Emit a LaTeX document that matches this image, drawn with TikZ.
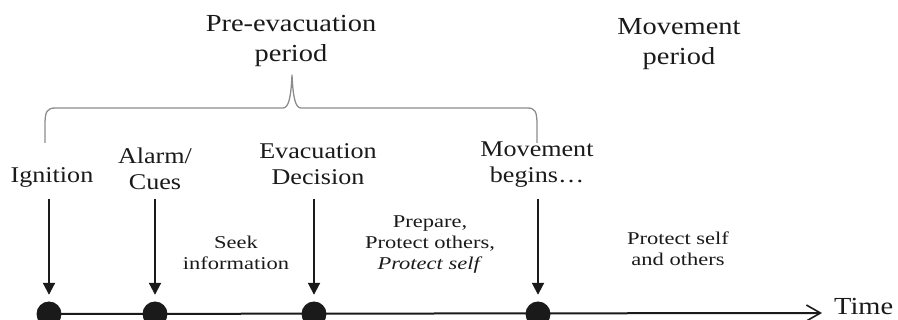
\documentclass[tikz,border=0pt]{standalone}
\usepackage{fontspec}
\setmainfont{Liberation Serif}[FakeStretch=1.16]
\newfontfamily\smallserif{Liberation Serif}[FakeStretch=1.25]
\usetikzlibrary{arrows.meta}
\definecolor{ink}{HTML}{1A1A1A}
\definecolor{bracegray}{HTML}{8C8C8C}
\begin{document}
\begin{tikzpicture}[x=1pt,y=-1pt,
  periodlabel/.style={font=\fontsize{24.5}{30}\selectfont, align=center, anchor=base, inner sep=0pt, text=ink},
  eventlabel/.style={font=\fontsize{22.5}{26}\selectfont, align=center, anchor=base, inner sep=0pt, text=ink},
  phaselabel/.style={font=\smallserif\fontsize{18}{21}\selectfont, align=center, anchor=base, inner sep=0pt, text=ink},
  dot/.style={circle, fill=ink, minimum size=25pt, inner sep=0pt},
  droparrow/.style={draw=ink, line width=2pt, -{Triangle[length=12pt,width=12pt]}, shorten >=6.5pt},
  timeline/.style={draw=ink, line width=2pt, -{Straight Barb[length=14pt,width=16pt,line width=1.6pt]}},
  bracestyle/.style={draw=bracegray, line width=1.3pt, line join=round}]
\useasboundingbox (0,0) rectangle (898,320);
% period labels
\node[periodlabel] (preevac) at (291,62) {Pre-evacuation\\period};
\node[periodlabel] (movper) at (679,65) {Movement\\period};
% brace
\draw[bracestyle] (45,143) -- (45,125) .. controls (45,111) and (47,108) .. (56,108)
  -- (283,108) .. controls (289,108) and (291,96) .. (292,75)
  .. controls (293,96) and (295,108) .. (301,108)
  -- (527,108) .. controls (535,108) and (537,111) .. (537,125) -- (537,143);
% event labels
\node[eventlabel] (ign) at (52,183) {Ignition};
\node[eventlabel] (alarm) at (155,190) {Alarm/\\Cues};
\node[eventlabel] (evac) at (318,185) {Evacuation\\Decision};
\node[eventlabel] (move) at (537,183) {Movement\\begins…};
% phase labels
\node[phaselabel] (seek) at (236,270) {Seek\\information};
\node[phaselabel] (prep) at (430,270) {Prepare,\\Protect others,\\\textit{Protect self}};
\node[phaselabel] (prot) at (678,266) {Protect self\\and others};
% timeline
\coordinate (tend) at (822,313);
\node[dot] (d1) at (49,314) {};
\node[dot] (d2) at (155,314) {};
\node[dot] (d3) at (314,314) {};
\node[dot] (d4) at (538,314) {};
\draw[timeline] (d1.center) -- (tend);
\node[font=\fontsize{24.5}{30}\selectfont, anchor=base west, inner sep=0pt, text=ink] (time) at (834,315) {Time};
% drop arrows
\coordinate (a1) at (49,199);
\coordinate (a2) at (155,199);
\coordinate (a3) at (314,199);
\coordinate (a4) at (538,199);
\draw[droparrow] (a1) -- (d1);
\draw[droparrow] (a2) -- (d2);
\draw[droparrow] (a3) -- (d3);
\draw[droparrow] (a4) -- (d4);
\end{tikzpicture}
\end{document}
